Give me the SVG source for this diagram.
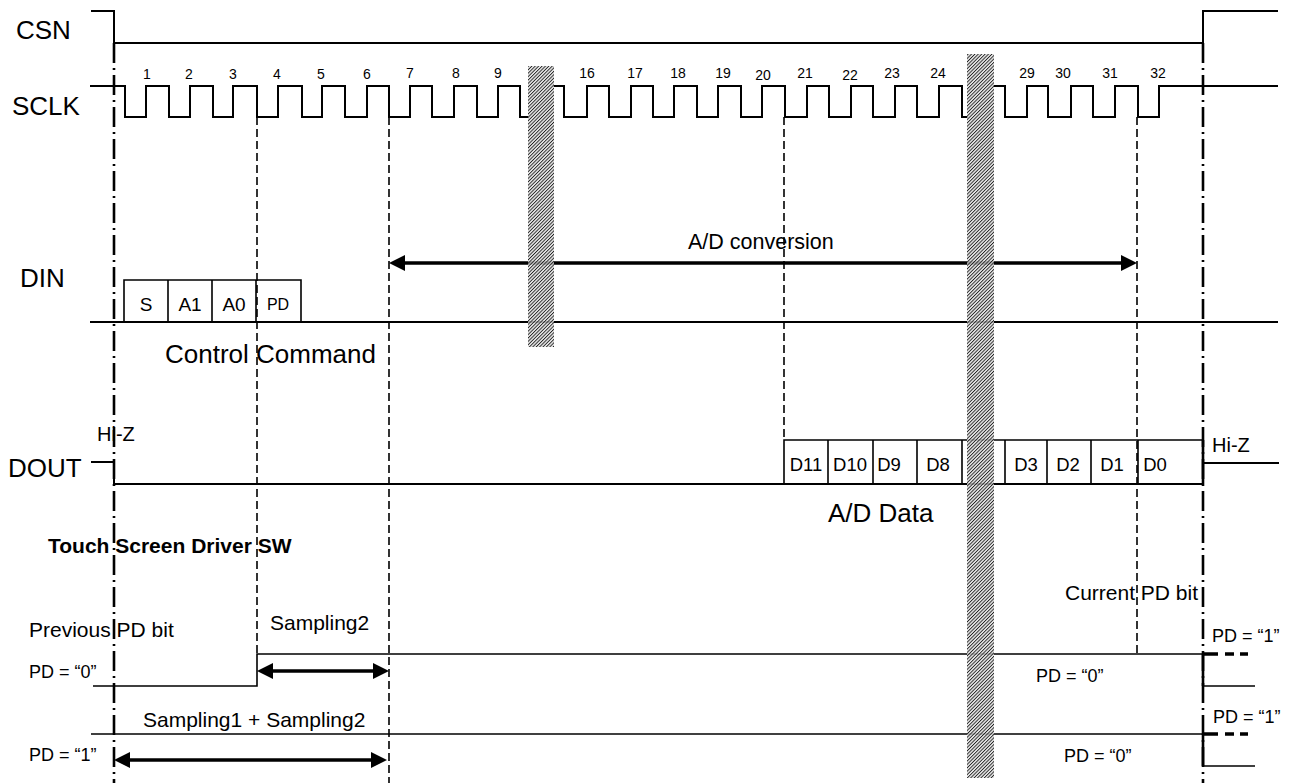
<svg xmlns="http://www.w3.org/2000/svg" width="1293" height="783" viewBox="0 0 1293 783">
<defs>
<style>
text{font-family:"Liberation Sans",Arial,sans-serif;fill:#000}
.lbl{font-size:26px}
.num{font-size:14px;text-anchor:middle}
.mid{font-size:21px}
.bit{font-size:19px;text-anchor:middle}
.dbit{font-size:18.5px;text-anchor:middle}
.pd{font-size:18px}
.wave{fill:none;stroke:#000;stroke-width:2}
.thin{fill:none;stroke:#000;stroke-width:1.6}
.dd{fill:none;stroke:#000;stroke-width:2.6;stroke-dasharray:20 5 2 5}
.dash{fill:none;stroke:#000;stroke-width:1.6;stroke-dasharray:8 4}
.arr{fill:none;stroke:#000;stroke-width:3.5;marker-start:url(#ah);marker-end:url(#ah)}
.tdash{fill:none;stroke:#000;stroke-width:3.5;stroke-dasharray:15 7 9 6 8}
.step{fill:none;stroke:#000;stroke-width:2.6}
</style>
<marker id="ah" markerUnits="userSpaceOnUse" markerWidth="16" markerHeight="16" refX="8" refY="8" orient="auto-start-reverse" viewBox="0 0 16 16"><path d="M0,0 L16,8 L0,16 z" fill="#000"/></marker>
<pattern id="hatch" patternUnits="userSpaceOnUse" width="2.4" height="2.4" patternTransform="rotate(45)">
<rect x="0" y="0" width="2.4" height="2.4" fill="#e4e4e4" fill-opacity="0.8"/>
<rect x="0" y="0" width="0.9" height="2.4" fill="#222"/>
</pattern>
</defs>
<rect width="1293" height="783" fill="#fff"/>

<g id="labels">
<text class="lbl" x="16" y="39">CSN</text>
<text class="lbl" x="12" y="115">SCLK</text>
<text class="lbl" x="20" y="287">DIN</text>
<text class="lbl" x="8" y="477">DOUT</text>
</g>

<g id="csn">
<path class="wave" d="M91,11 H114 V43 H1203 V11 H1278"/>
</g>

<g id="sclk">
<path class="wave" d="M90,86 H125 V117 H146 V86 H169 V117 H190 V86 H213 V117 H233 V86 H257 V117 H278 V86 H302 V117 H322 V86 H345 V117 H367 V86 H389 V117 H410 V86 H432 V117 H454 V86 H477 V117 H498 V86 H520 V117 H529"/>
<path class="wave" d="M553,86 H564 V117 H587 V86 H609 V117 H631 V86 H653 V117 H674 V86 H697 V117 H718 V86 H741 V117 H762 V86 H785 V117 H807 V86 H829 V117 H851 V86 H873 V117 H895 V86 H917 V117 H939 V86 H962 V117 H968"/>
<path class="wave" d="M993,86 H1005 V117 H1027 V86 H1048 V117 H1071 V86 H1093 V117 H1115 V86 H1138 V117 H1159 V86 H1278"/>
<text class="num" x="147" y="79">1</text>
<text class="num" x="189" y="79">2</text>
<text class="num" x="233" y="79">3</text>
<text class="num" x="277" y="79">4</text>
<text class="num" x="321" y="79">5</text>
<text class="num" x="367" y="79">6</text>
<text class="num" x="410" y="78">7</text>
<text class="num" x="456" y="78">8</text>
<text class="num" x="498" y="78">9</text>
<text class="num" x="587" y="78">16</text>
<text class="num" x="635" y="78">17</text>
<text class="num" x="678" y="78">18</text>
<text class="num" x="723" y="78">19</text>
<text class="num" x="763" y="80">20</text>
<text class="num" x="805" y="78">21</text>
<text class="num" x="850" y="80">22</text>
<text class="num" x="892" y="78">23</text>
<text class="num" x="938" y="78">24</text>
<text class="num" x="1027" y="78">29</text>
<text class="num" x="1063" y="78">30</text>
<text class="num" x="1110" y="78">31</text>
<text class="num" x="1158" y="78">32</text>
</g>

<g id="din">
<path class="wave" d="M90,322 H1278"/>
<path class="thin" d="M124,322 V280 H301 V322 M168,280 V322 M212,280 V322 M256,280 V322"/>
<text class="bit" x="146" y="311">S</text>
<text class="bit" x="190" y="311">A1</text>
<text class="bit" x="234" y="311">A0</text>
<text class="bit" x="278" y="310" style="font-size:16px">PD</text>
<text class="lbl" x="165" y="363">Control Command</text>
</g>

<g id="dout">
<path class="wave" d="M91,462 H114 V484 H1203"/>
<path class="thin" d="M784,484 V440 H1203 M828,440 V484 M873,440 V484 M917,440 V484 M962,440 V484 M1005,440 V484 M1047,440 V484 M1091,440 V484 M1138,440 V484"/>
<path class="step" d="M1203,440 V484"/>
<path class="wave" d="M1203,463 H1279"/>
<text class="mid" x="97" y="441" style="font-size:20px">Hi-Z</text>
<text class="mid" x="1212" y="452" style="font-size:20px">Hi-Z</text>
<text class="dbit" x="806" y="471">D11</text>
<text class="dbit" x="850" y="471">D10</text>
<text class="dbit" x="889" y="471">D9</text>
<text class="dbit" x="938" y="471">D8</text>
<text class="dbit" x="1026" y="471">D3</text>
<text class="dbit" x="1068" y="471">D2</text>
<text class="dbit" x="1112" y="471">D1</text>
<text class="dbit" x="1155" y="471">D0</text>
<text class="lbl" x="828" y="522">A/D Data</text>
</g>

<g id="driver">
<text x="48" y="553" style="font-size:21px;font-weight:bold">Touch Screen Driver SW</text>
<text class="mid" x="1065" y="600">Current PD bit</text>
<text class="mid" x="29" y="637">Previous PD bit</text>
<text class="mid" x="270" y="630">Sampling2</text>
<text class="mid" x="143" y="727">Sampling1 + Sampling2</text>
<text class="pd" x="29" y="678">PD = “0”</text>
<text class="pd" x="29" y="761">PD = “1”</text>
<text class="pd" x="1036" y="682">PD = “0”</text>
<text class="pd" x="1064" y="762">PD = “0”</text>
<text class="pd" x="1212" y="642">PD = “1”</text>
<text class="pd" x="1213" y="723">PD = “1”</text>
</g>

<g id="pd-waves">
<path class="thin" d="M93,686 H257 V654 H1203"/>
<path class="thin" d="M91,734 H1203"/>
<path class="tdash" d="M1203,654 H1251"/>
<path class="thin" d="M1203,686 H1255"/>
<path class="step" d="M1203,654 V686"/>
<path class="tdash" d="M1203,734 H1251"/>
<path class="thin" d="M1203,766 H1255"/>
<path class="step" d="M1203,734 V766"/>
</g>

<g id="connectors">
<path class="dd" d="M114,43 V783"/>
<path class="dd" d="M1203,43 V783"/>
<path class="dash" d="M257,117 V654"/>
<path class="dash" d="M389,117 V783"/>
<path class="dash" d="M784,117 V440"/>
<path class="dash" d="M1137,117 V654"/>
<path class="arr" d="M397,263 H1129"/>
<path class="arr" d="M265,671 H381"/>
<path class="arr" d="M122,760 H379"/>
<text x="688" y="249" style="font-size:21.5px">A/D conversion</text>
</g>

<g id="hatches">
<rect x="528" y="66" width="26" height="281" fill="url(#hatch)"/>
<rect x="967" y="54" width="27" height="724" fill="url(#hatch)"/>
</g>
</svg>
